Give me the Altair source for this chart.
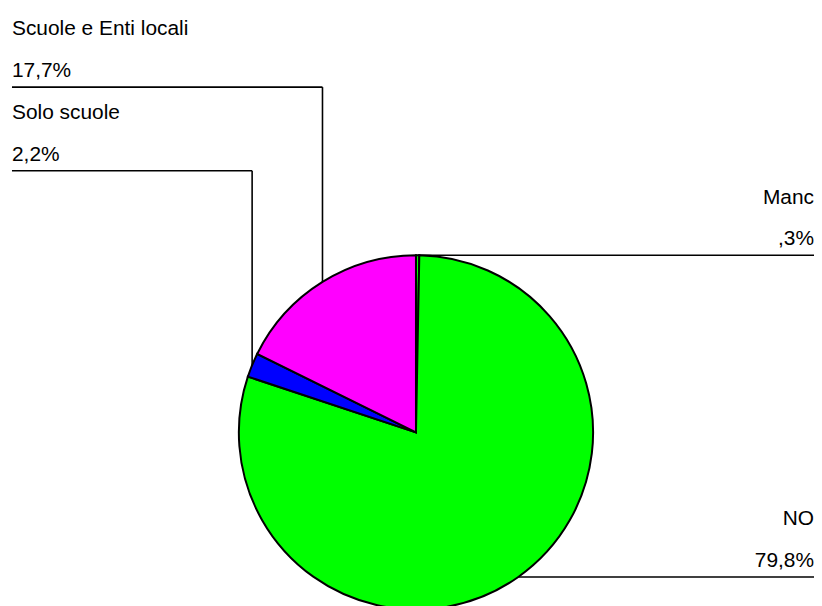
import math
import altair as alt
import pandas as pd

# ---- data ----
categories = ["Manc", "NO", "Solo scuole", "Scuole e Enti locali"]
values = [0.3, 79.8, 2.2, 17.7]
pct_labels = [",3%", "79,8%", "2,2%", "17,7%"]
colors = ["#00FF00", "#00FF00", "#0000FF", "#FF00FF"]
sides = ["right", "right", "left", "left"]

# ---- layout (pixels, chart coordinates) ----
W, H = 810, 598
CX, CY, R = 410, 425, 178
LEFT_X, RIGHT_X = 4, 810
left_line_y = {"Solo scuole": 162, "Scuole e Enti locali": 78}

total = sum(values)
pie_rows, seg_rows, txt_rows = [], [], []
cum = 0.0
for i, (cat, v, lab, side) in enumerate(zip(categories, values, pct_labels, sides)):
    pie_rows.append({"category": cat, "value": v, "idx": i})
    ang = (cum + v / 2) / total * 2 * math.pi
    cum += v
    ax = CX + R * math.sin(ang)
    ay = CY - R * math.cos(ang)
    if side == "left":
        ly = left_line_y[cat]
        seg_rows.append({"x": ax, "y": ay, "x2": ax, "y2": ly})
        seg_rows.append({"x": ax, "y": ly, "x2": LEFT_X, "y2": ly})
        tx = LEFT_X
    else:
        ly = ay
        seg_rows.append({"x": ax, "y": ay, "x2": RIGHT_X, "y2": ay})
        tx = RIGHT_X
    txt_rows.append({"x": tx, "y": ly - 52, "text": cat, "side": side})
    txt_rows.append({"x": tx, "y": ly - 10, "text": lab, "side": side})

pie_df = pd.DataFrame(pie_rows)
seg_df = pd.DataFrame(seg_rows)
txt_df = pd.DataFrame(txt_rows)

xs = alt.Scale(domain=[0, W], range=[0, W])
ys = alt.Scale(domain=[0, H], range=[0, H])

pie = alt.Chart(pie_df).mark_arc(outerRadius=R, stroke="black", strokeWidth=2).encode(
    theta=alt.Theta("value:Q", stack=True),
    order=alt.Order("idx:Q"),
    color=alt.Color("category:N", scale=alt.Scale(domain=categories, range=colors), legend=None),
    x=alt.value(CX),
    y=alt.value(CY),
)

rules = alt.Chart(seg_df).mark_rule(color="black", strokeWidth=1.6).encode(
    x=alt.X("x:Q", scale=xs, axis=None),
    y=alt.Y("y:Q", scale=ys, axis=None),
    x2="x2:Q",
    y2="y2:Q",
)

def text_layer(side, align):
    return alt.Chart(txt_df).transform_filter(alt.datum.side == side).mark_text(
        align=align, baseline="alphabetic", font="Liberation Sans", fontSize=21, color="black"
    ).encode(
        x=alt.X("x:Q", scale=xs, axis=None),
        y=alt.Y("y:Q", scale=ys, axis=None),
        text="text:N",
    )

chart = alt.layer(pie, rules, text_layer("left", "left"), text_layer("right", "right")).properties(
    width=W, height=H, autosize=alt.AutoSizeParams(type="none"), padding=0, background="white"
).configure_view(stroke=None)

chart.save("out.html", embed_options={"renderer": "svg", "actions": False})
